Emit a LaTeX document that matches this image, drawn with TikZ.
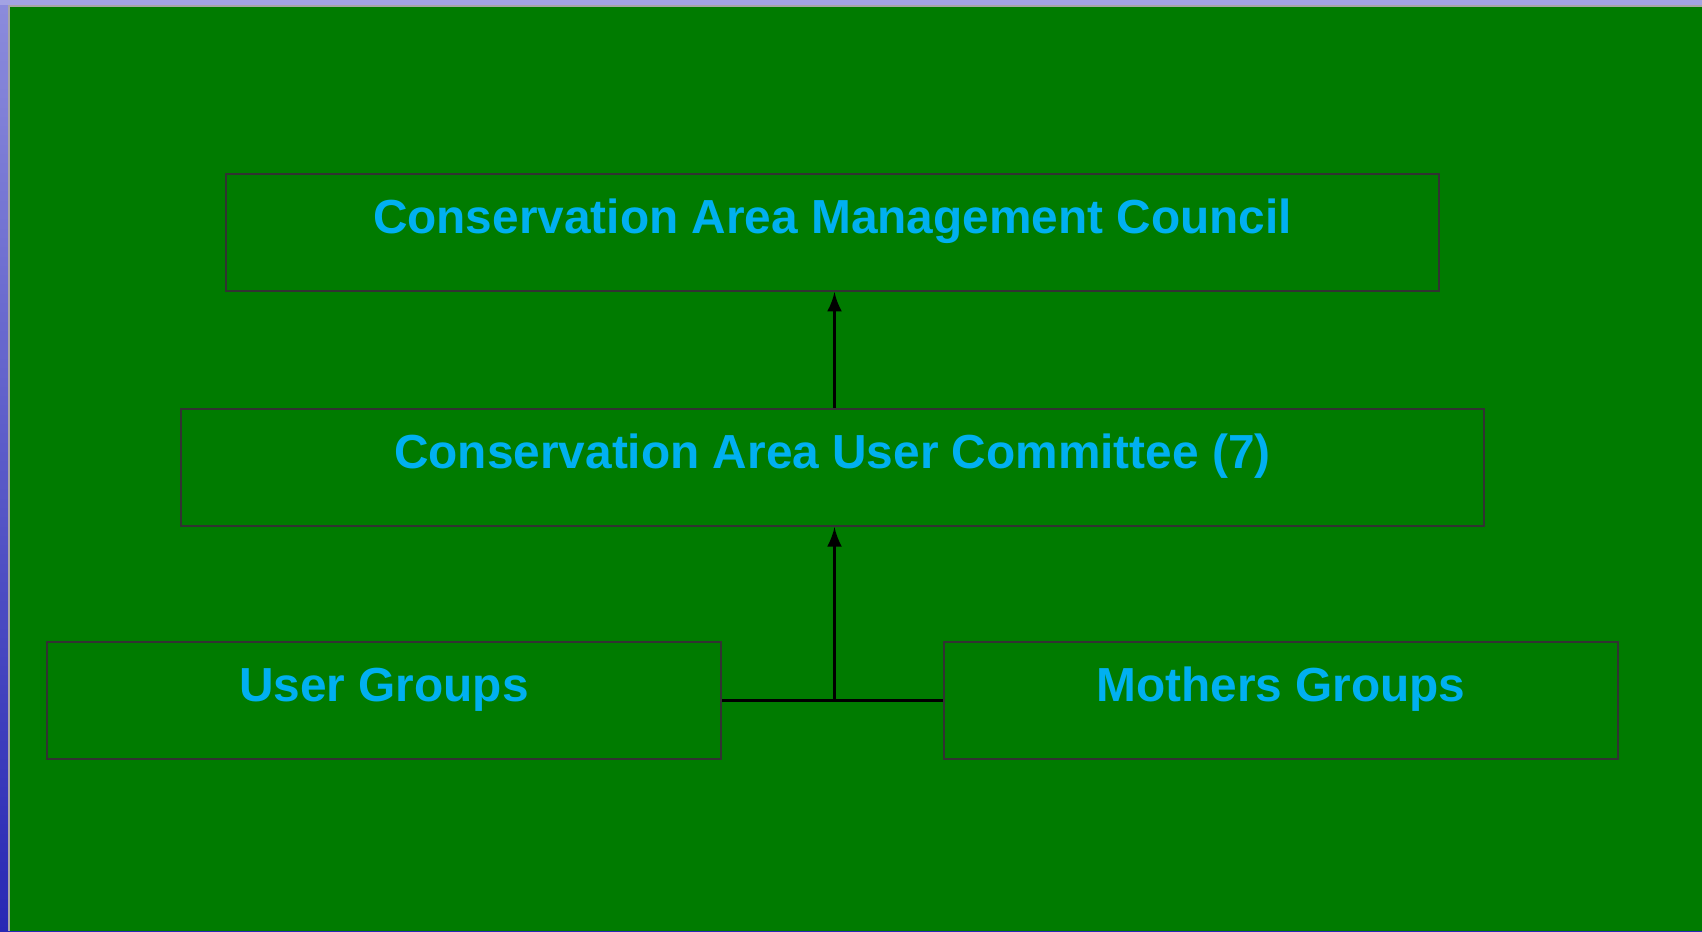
\documentclass[tikz,border=0pt]{standalone}
\usepackage{fontspec}
\setmainfont{Liberation Sans}
\usetikzlibrary{positioning}

\definecolor{slidegreen}{RGB}{0,123,0}
\definecolor{titlecyan}{RGB}{0,176,240}
\definecolor{frameblue}{RGB}{40,40,180}
\definecolor{framelilac}{RGB}{140,140,220}
\definecolor{boxline}{RGB}{50,50,50}

\begin{document}
\begin{tikzpicture}[
    box/.style={rectangle, draw=boxline, line width=0.6pt, inner sep=0pt,
      minimum height=1.17cm, text height=0.59cm, text depth=0.58cm,
      font=\fontsize{13.6pt}{15pt}\selectfont\bfseries, text=titlecyan},
    link/.style={black, line width=0.9pt}
  ]
  % slide background with the framed edge
  \useasboundingbox (0,0) rectangle (17.02,-9.31);
  \fill[top color=framelilac, bottom color=frameblue] (0,0) rectangle (17.02,-9.31);
  \fill[framelilac!80!white] (0,0) rectangle (17.02,-0.05);
  \fill[gray!70] (0.08,-0.05) rectangle (17.02,-9.31);
  \fill[slidegreen] (0.10,-0.07) rectangle (17.02,-9.31);

  % council on top
  \node (council) [box, minimum width=12.13cm] at (8.325,-2.325) {Conservation Area Management Council};

  % committee below it
  \node (committee) [box, minimum width=13.03cm, below=1.16cm of council] {Conservation Area User Committee (7)};

  % the two kinds of groups
  \node (users) [box, minimum width=6.74cm, below=1.14cm of committee, xshift=-4.485cm] {User Groups};
  \node (mothers) [box, minimum width=6.74cm, below=1.14cm of committee, xshift=4.485cm] {Mothers Groups};

  % connecting lines
  \coordinate (joint) at ([xshift=0.02cm]committee.south |- users.east);
  \draw [link] (users.east) -- (mothers.west);
  \draw [link, -latex] (joint) -- (joint |- committee.south);
  \draw [link, -latex] ([xshift=0.02cm]committee.north) -- ([xshift=0.02cm]council.south);
\end{tikzpicture}
\end{document}
